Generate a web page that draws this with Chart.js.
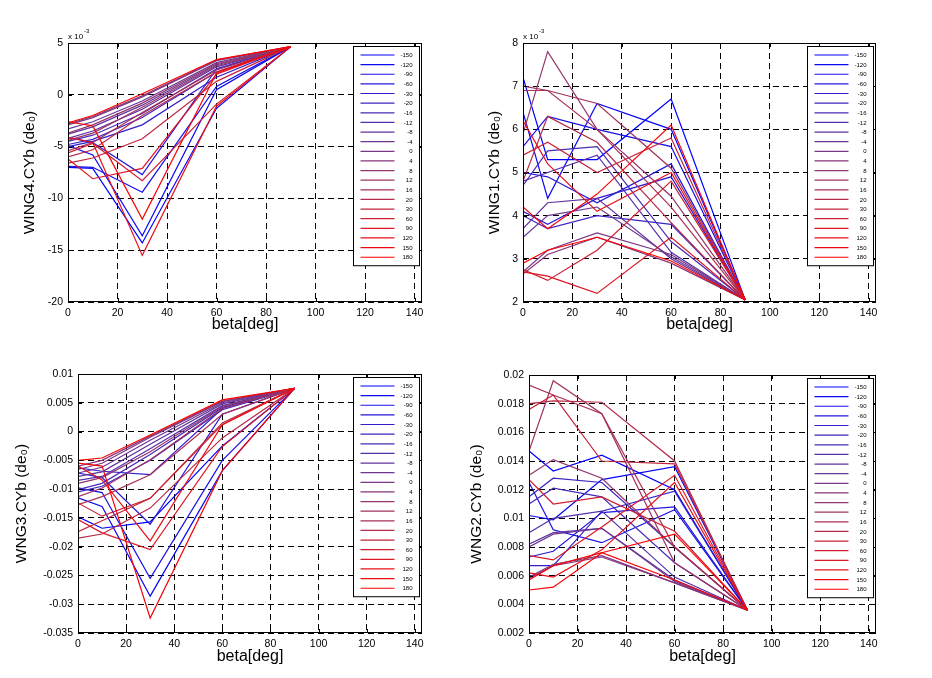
<!DOCTYPE html>
<html>
<head>
<meta charset="utf-8">
<script src="https://cdn.jsdelivr.net/npm/chart.js@4.4.1/dist/chart.umd.min.js"></script>
<style>
  html, body { margin: 0; padding: 0; background: #fff; }
  #wrap { position: relative; width: 932px; height: 678px; overflow: hidden; }
  #wrap canvas { position: absolute; }
</style>
</head>
<body>
<div id="wrap">
  <canvas id="c1" width="466" height="339" style="left:0;top:0"></canvas>
  <canvas id="c2" width="466" height="339" style="left:466px;top:0"></canvas>
  <canvas id="c3" width="466" height="339" style="left:0;top:339px"></canvas>
  <canvas id="c4" width="466" height="339" style="left:466px;top:339px"></canvas>
</div>
<script>
// beta sample points (deg) shared by every curve
const beta = [0, 10, 30, 60, 90];
const betaTicks = [0, 20, 40, 60, 80, 100, 120, 140];

// one curve per roll angle
const rollAngles = ['-150', '-120', '-90', '-60', '-30', '-20', '-16', '-12', '-8', '-4',
  '0', '4', '8', '12', '16', '20', '30', '60', '90', '120', '150', '180'];

// WING4.CYb, in units of 1e-3
const wing4 = [
  [-7.0, -7.1, -14.3, -1.3, 4.65],
  [-4.9, -5.8, -13.6, 0.5, 4.65],
  [-6.9, -7.0, -9.4, 0.8, 4.65],
  [-4.1, -4.6, -7.7, 2.5, 4.65],
  [-5.0, -4.5, -2.9, 1.7, 4.65],
  [-4.8, -4.3, -2.2, 2.2, 4.65],
  [-4.5, -3.9, -1.8, 2.5, 4.65],
  [-4.2, -3.5, -1.4, 2.7, 4.65],
  [-3.8, -3.1, -1.0, 2.9, 4.65],
  [-3.3, -2.6, -0.6, 3.1, 4.65],
  [-2.9, -2.2, -0.2, 3.3, 4.65],
  [-2.8, -2.1, -0.1, 3.35, 4.65],
  [-3.7, -2.9, -0.8, 3.0, 4.65],
  [-4.4, -3.7, -1.2, 2.8, 4.65],
  [-5.4, -4.6, -1.7, 2.4, 4.65],
  [-6.0, -5.3, -2.0, 2.2, 4.65],
  [-6.6, -6.1, -4.25, 1.3, 4.65],
  [-5.6, -4.7, -8.3, -0.9, 4.65],
  [-6.2, -8.1, -7.1, 2.0, 4.65],
  [-4.1, -4.6, -15.5, -1.1, 4.65],
  [-2.6, -3.0, -12.0, 2.1, 4.65],
  [-2.7, -2.0, 0.1, 3.4, 4.65]
];
const wing4Ticks = [-20, -15, -10, -5, 0, 5];

// WING1.CYb, in units of 1e-3
const wing1 = [
  [7.2, 5.3, 5.3, 6.7, 2.05],
  [6.4, 4.4, 6.6, 6.0, 2.05],
  [5.6, 6.3, 6.0, 5.6, 2.05],
  [5.0, 4.9, 4.3, 5.2, 2.05],
  [4.1, 3.8, 4.4, 4.9, 2.05],
  [4.0, 3.7, 4.0, 3.8, 2.05],
  [4.7, 5.5, 5.6, 3.4, 2.05],
  [4.8, 5.0, 5.4, 3.15, 2.05],
  [3.7, 4.3, 4.4, 3.0, 2.05],
  [3.5, 4.0, 4.2, 3.05, 2.05],
  [2.7, 3.2, 3.6, 3.1, 2.05],
  [2.65, 3.1, 3.5, 2.9, 2.05],
  [5.9, 7.8, 6.0, 4.45, 2.05],
  [7.0, 6.9, 6.6, 5.1, 2.05],
  [6.9, 6.9, 6.0, 4.2, 2.05],
  [4.8, 6.3, 5.7, 3.84, 2.05],
  [5.4, 5.7, 5.0, 5.8, 2.05],
  [2.75, 2.5, 3.2, 4.8, 2.05],
  [2.7, 2.6, 2.2, 3.5, 2.05],
  [6.2, 5.2, 4.1, 5.0, 2.05],
  [4.2, 3.7, 4.5, 6.1, 2.05],
  [2.9, 3.2, 3.5, 2.95, 2.05]
];
const wing1Ticks = [2, 3, 4, 5, 6, 7, 8];

// WNG3.CYb
const wng3 = [
  [-0.0148, -0.0168, -0.0157, -0.0025, 0.0075],
  [-0.0115, -0.0130, -0.0286, -0.0068, 0.0075],
  [-0.0098, -0.0106, -0.0255, -0.0050, 0.0075],
  [-0.0072, -0.0080, -0.0161, 0.0030, 0.0075],
  [-0.0063, -0.0069, -0.0075, 0.0040, 0.0075],
  [-0.0105, -0.0095, -0.0050, 0.0038, 0.0075],
  [-0.0101, -0.0090, -0.0040, 0.0042, 0.0075],
  [-0.0085, -0.0078, -0.0030, 0.0045, 0.0075],
  [-0.0078, -0.0070, -0.0022, 0.0048, 0.0075],
  [-0.0072, -0.0062, -0.0015, 0.0050, 0.0075],
  [-0.0066, -0.0055, -0.0010, 0.0052, 0.0075],
  [-0.0060, -0.0050, -0.0008, 0.0053, 0.0075],
  [-0.0090, -0.0080, -0.0035, 0.0044, 0.0075],
  [-0.0113, -0.0098, -0.0049, 0.0040, 0.0075],
  [-0.0127, -0.0113, -0.0075, 0.0030, 0.0075],
  [-0.0185, -0.0178, -0.0133, -0.0011, 0.0075],
  [-0.0174, -0.0155, -0.0116, 0.0015, 0.0075],
  [-0.0124, -0.0147, -0.0116, 0.0012, 0.0075],
  [-0.0153, -0.0176, -0.0205, -0.0026, 0.0075],
  [-0.0060, -0.0084, -0.0190, 0.0012, 0.0075],
  [-0.0055, -0.0060, -0.0324, -0.0068, 0.0075],
  [-0.0050, -0.0046, -0.0006, 0.0055, 0.0075]
];
const wng3Ticks = [-0.035, -0.03, -0.025, -0.02, -0.015, -0.01, -0.005, 0, 0.005, 0.01];

// WNG2.CYb
const wng2 = [
  [0.0147, 0.0133, 0.0144, 0.0120, 0.0036],
  [0.0102, 0.0099, 0.0127, 0.0136, 0.0036],
  [0.0125, 0.0092, 0.0083, 0.0106, 0.0036],
  [0.0073, 0.0077, 0.0104, 0.0108, 0.0036],
  [0.0067, 0.0067, 0.0105, 0.0119, 0.0036],
  [0.0115, 0.0128, 0.0125, 0.0080, 0.0036],
  [0.0110, 0.0121, 0.0115, 0.0069, 0.0036],
  [0.0090, 0.0100, 0.0105, 0.0059, 0.0036],
  [0.0082, 0.0090, 0.0093, 0.0057, 0.0036],
  [0.0080, 0.0089, 0.0093, 0.0056, 0.0036],
  [0.0059, 0.0068, 0.0074, 0.0055, 0.0036],
  [0.0058, 0.0067, 0.0073, 0.0055, 0.0036],
  [0.0130, 0.0141, 0.0128, 0.0080, 0.0036],
  [0.0147, 0.0196, 0.0173, 0.0069, 0.0036],
  [0.0193, 0.0186, 0.0173, 0.0080, 0.0036],
  [0.0180, 0.0182, 0.0181, 0.0140, 0.0036],
  [0.0176, 0.0186, 0.0140, 0.0138, 0.0036],
  [0.0127, 0.0110, 0.0115, 0.0091, 0.0036],
  [0.0074, 0.0071, 0.0094, 0.0130, 0.0036],
  [0.0062, 0.0059, 0.0078, 0.0125, 0.0036],
  [0.0057, 0.0067, 0.0076, 0.0057, 0.0036],
  [0.0050, 0.0052, 0.0076, 0.0089, 0.0036]
];
const wng2Ticks = [0.002, 0.004, 0.006, 0.008, 0.01, 0.012, 0.014, 0.016, 0.018, 0.02];

const FONT = '"Liberation Sans", Arial, Helvetica, sans-serif';

// blue -> red ramp like the original plot
function lineColor(i, n) {
  const t = i / (n - 1);
  const r = Math.round(255 * t);
  const g = Math.round(55 * Math.sin(Math.PI * t));
  const b = Math.round(255 * (1 - t));
  return `rgb(${r},${g},${b})`;
}

// box, inner ticks, exponent note and the boxed legend (matlab look)
const matlabFrame = {
  id: 'matlabFrame',
  afterDatasetsDraw(chart, args, opts) {
    const { ctx, chartArea: a, scales: { x, y } } = chart;
    ctx.save();
    ctx.strokeStyle = '#000';
    ctx.lineWidth = 1;
    ctx.setLineDash([]);
    ctx.beginPath();
    x.ticks.forEach(t => {
      const px = Math.round(x.getPixelForValue(t.value)) + 0.5;
      ctx.moveTo(px, a.bottom); ctx.lineTo(px, a.bottom - 4);
      ctx.moveTo(px, a.top); ctx.lineTo(px, a.top + 4);
    });
    y.ticks.forEach(t => {
      const py = Math.round(y.getPixelForValue(t.value)) + 0.5;
      ctx.moveTo(a.left, py); ctx.lineTo(a.left + 4, py);
      ctx.moveTo(a.right, py); ctx.lineTo(a.right - 4, py);
    });
    ctx.stroke();
    ctx.strokeRect(Math.round(a.left) + 0.5, Math.round(a.top) + 0.5,
      Math.round(a.width) - 1, Math.round(a.height) - 1);

    if (opts.exponent) {
      ctx.fillStyle = '#000';
      ctx.textBaseline = 'alphabetic';
      ctx.textAlign = 'left';
      ctx.font = `8px ${FONT}`;
      ctx.fillText('x 10', a.left, a.top - 4);
      const w = ctx.measureText('x 10').width;
      ctx.font = `6px ${FONT}`;
      ctx.fillText(opts.exponent, a.left + w + 1, a.top - 10);
    }

    // legend
    const sets = chart.data.datasets;
    const bw = 66, step = 9.63;
    const bh = step * (sets.length - 1) + 17;
    const bx = Math.round(a.right - 3 - bw) + 0.5;
    const by = Math.round(a.top + 3) + 0.5;
    ctx.fillStyle = '#fff';
    ctx.fillRect(bx, by, bw, bh);
    ctx.strokeStyle = '#000';
    ctx.strokeRect(bx, by, bw, bh);
    ctx.font = `6px ${FONT}`;
    ctx.textAlign = 'right';
    ctx.textBaseline = 'middle';
    sets.forEach((ds, i) => {
      const ly = by + 8.5 + i * step;
      ctx.strokeStyle = ds.borderColor;
      ctx.lineWidth = 1.2;
      ctx.beginPath();
      ctx.moveTo(bx + 7, ly); ctx.lineTo(bx + 41, ly);
      ctx.stroke();
      ctx.fillStyle = '#000';
      ctx.fillText(ds.label, bx + bw - 7, ly + 0.5);
    });
    ctx.restore();
  }
};

function fmt(v) {
  return String(parseFloat(v.toFixed(4)));
}

function makeChart(id, rows, yTicks, yTitle, box, exponent) {
  const datasets = rows.map((row, i) => ({
    label: rollAngles[i],
    data: row.map((v, j) => ({ x: beta[j], y: v })),
    borderColor: lineColor(i, rows.length),
    borderWidth: 1.2,
    pointRadius: 0,
    tension: 0,
    fill: false,
    order: rows.length - 1 - i
  }));
  return new Chart(document.getElementById(id), {
    type: 'line',
    data: { datasets },
    plugins: [matlabFrame],
    options: {
      responsive: false,
      animation: false,
      layout: { padding: { top: box.top, right: box.right, left: 0, bottom: 0 } },
      plugins: {
        legend: { display: false },
        tooltip: { enabled: false },
        matlabFrame: { exponent }
      },
      scales: {
        x: {
          type: 'linear',
          min: 0,
          max: 143,
          afterBuildTicks: s => { s.ticks = betaTicks.map(v => ({ value: v })); },
          afterFit: s => { s.height = box.xHeight; },
          grid: { color: '#000', lineWidth: 1, drawTicks: false },
          border: { display: false, dash: [6, 4] },
          ticks: { color: '#000', font: { size: 10.5, family: FONT }, padding: 5, maxRotation: 0 },
          title: {
            display: true, text: 'beta[deg]', color: '#000',
            font: { size: 16, family: FONT },
            padding: { top: 0, bottom: box.xTitlePad }
          }
        },
        y: {
          type: 'linear',
          min: yTicks[0],
          max: yTicks[yTicks.length - 1],
          afterBuildTicks: s => { s.ticks = yTicks.map(v => ({ value: v })); },
          afterFit: s => { s.width = box.yWidth; },
          grid: { color: '#000', lineWidth: 1, drawTicks: false },
          border: { display: false, dash: [6, 4] },
          ticks: { color: '#000', font: { size: 10.5, family: FONT }, padding: 5, callback: v => fmt(v) },
          title: {
            display: true, text: yTitle, color: '#000',
            font: { size: 15.5, family: FONT },
            padding: { top: box.yTitlePad, bottom: 0 }
          }
        }
      }
    }
  });
}

makeChart('c1', wing4, wing4Ticks, 'WING4.CYb (de\u2080)',
  { top: 43, right: 44, yWidth: 68, xHeight: 37, xTitlePad: 4.4, yTitlePad: 20 }, '-3');
makeChart('c2', wing1, wing1Ticks, 'WING1.CYb (de\u2080)',
  { top: 43, right: 56, yWidth: 57, xHeight: 37, xTitlePad: 4.4, yTitlePad: 19 }, '-3');
makeChart('c3', wng3, wng3Ticks, 'WNG3.CYb (de\u2080)',
  { top: 35, right: 44, yWidth: 78, xHeight: 45, xTitlePad: 11.4, yTitlePad: 12 }, null);
makeChart('c4', wng2, wng2Ticks, 'WNG2.CYb (de\u2080)',
  { top: 36, right: 56, yWidth: 63, xHeight: 45, xTitlePad: 11.4, yTitlePad: 1.5 }, null);
</script>
</body>
</html>
